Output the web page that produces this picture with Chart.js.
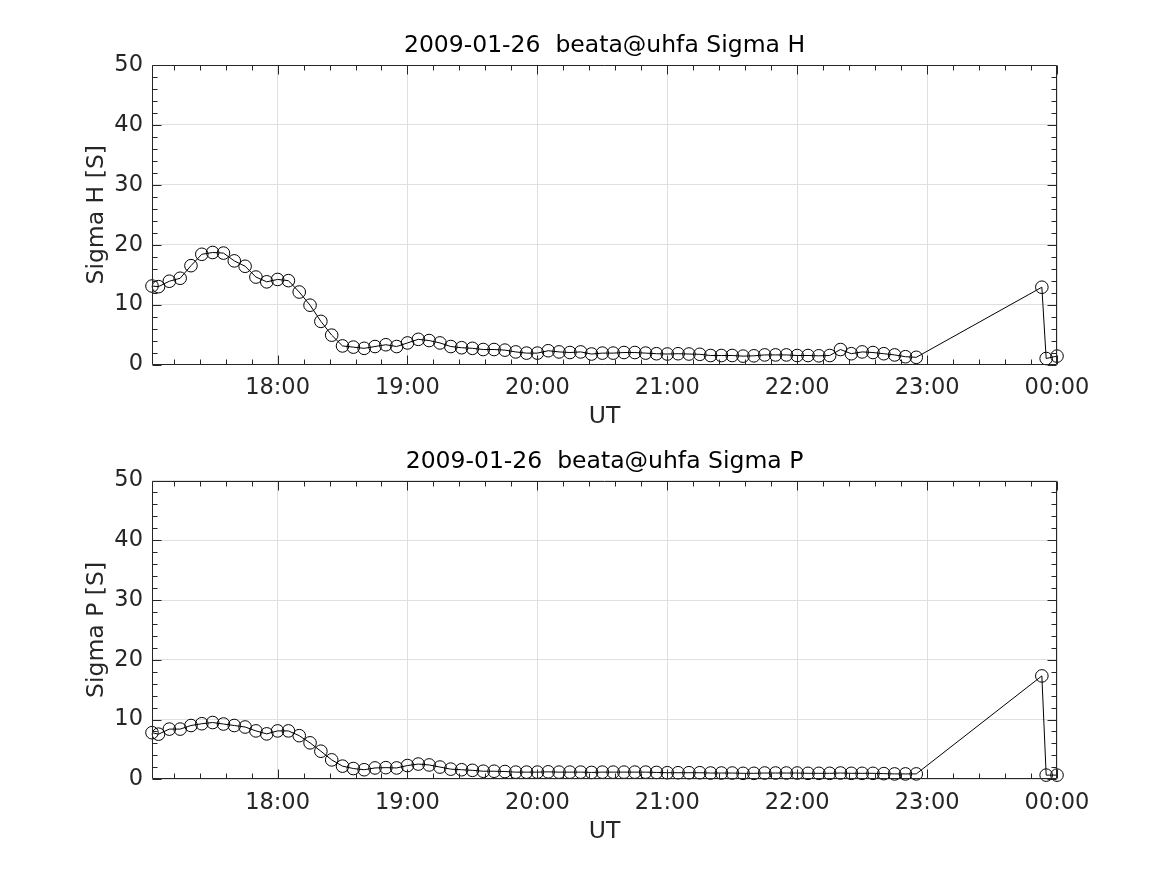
<!DOCTYPE html>
<html>
<head>
<meta charset="utf-8">
<script src="https://cdn.jsdelivr.net/npm/chart.js@4/dist/chart.umd.min.js"></script>
<style>
  html, body { margin: 0; padding: 0; background: #fff; }
  #wrap { position: relative; width: 1167px; height: 875px; }
  canvas { position: absolute; left: 0; }
  #cH { top: 0; }
  #cP { top: 437px; }
</style>
</head>
<body>
<div id="wrap">
  <canvas id="cH" width="1167" height="437"></canvas>
  <canvas id="cP" width="1167" height="438"></canvas>
</div>
<script>
// UT sample times
const utTimes = [
  '17:02','17:05','17:10','17:15','17:20','17:25','17:30','17:35','17:40','17:45','17:50','17:55',
  '18:00','18:05','18:10','18:15','18:20','18:25','18:30','18:35','18:40','18:45','18:50','18:55',
  '19:00','19:05','19:10','19:15','19:20','19:25','19:30','19:35','19:40','19:45','19:50','19:55',
  '20:00','20:05','20:10','20:15','20:20','20:25','20:30','20:35','20:40','20:45','20:50','20:55',
  '21:00','21:05','21:10','21:15','21:20','21:25','21:30','21:35','21:40','21:45','21:50','21:55',
  '22:00','22:05','22:10','22:15','22:20','22:25','22:30','22:35','22:40','22:45','22:50','22:55',
  '23:53','23:55','00:00'
];

// Hall conductance [S]
const sigmaH = [
  13.1, 13.0, 13.9, 14.4, 16.5, 18.4, 18.7, 18.6, 17.3, 16.4, 14.6, 13.8,
  14.2, 14.0, 12.1, 9.9, 7.2, 4.9, 3.1, 2.9, 2.7, 3.0, 3.3, 3.0,
  3.6, 4.2, 4.0, 3.6, 3.0, 2.8, 2.7, 2.5, 2.5, 2.4, 2.1, 1.9,
  1.9, 2.3, 2.1, 2.0, 2.1, 1.75, 1.9, 1.9, 2.0, 2.0, 1.9, 1.8,
  1.75, 1.8, 1.75, 1.7, 1.5, 1.5, 1.5, 1.4, 1.45, 1.6, 1.6, 1.6,
  1.5, 1.5, 1.45, 1.5, 2.5, 1.8, 2.1, 2.0, 1.8, 1.6, 1.3, 1.2,
  12.9, 1.0, 1.4
];

// Pedersen conductance [S]
const sigmaP = [
  7.8, 7.55, 8.4, 8.4, 9.0, 9.3, 9.5, 9.25, 9.0, 8.75, 8.1, 7.6,
  8.1, 8.1, 7.3, 6.1, 4.7, 3.25, 2.2, 1.8, 1.6, 1.9, 1.95, 1.9,
  2.3, 2.55, 2.4, 2.05, 1.7, 1.6, 1.5, 1.35, 1.35, 1.3, 1.2, 1.2,
  1.2, 1.25, 1.2, 1.2, 1.2, 1.15, 1.2, 1.2, 1.2, 1.2, 1.2, 1.15,
  1.1, 1.1, 1.1, 1.1, 1.05, 1.05, 1.05, 1.0, 1.0, 1.05, 1.05, 1.05,
  1.05, 1.0, 1.0, 1.0, 1.05, 1.0, 1.0, 1.0, 0.95, 0.9, 0.9, 0.9,
  17.3, 0.7, 0.7
];

const xTickHours = [18, 19, 20, 21, 22, 23, 24];
const yTicks = [0, 10, 20, 30, 40, 50];
const plotDate = '2009-01-26';
const siteName = 'beata@uhfa';

const FONT = "'DejaVu Sans', sans-serif";
const AXIS_COL = '#262626';

function toHours(t) {
  const [h, m] = t.split(':').map(Number);
  let v = h + m / 60;
  if (h < 12) v += 24;
  return v;
}
const xs = utTimes.map(toHours);

// MATLAB style box with inward major/minor ticks on all four sides
const boxTicks = {
  id: 'boxTicks',
  afterDraw(chart) {
    const { ctx, chartArea: a, scales: { x, y } } = chart;
    ctx.save();
    ctx.strokeStyle = AXIS_COL;
    ctx.lineWidth = 1;
    ctx.beginPath();
    const L = Math.round(a.left) + 0.5, R = Math.round(a.right) - 0.5;
    const T = Math.round(a.top) + 0.5, B = Math.round(a.bottom) - 0.5;
    ctx.rect(L, T, R - L, B - T);
    const vt = (v, len) => {
      const px = Math.round(x.getPixelForValue(v)) + 0.5;
      ctx.moveTo(px, B); ctx.lineTo(px, B - len);
      ctx.moveTo(px, T); ctx.lineTo(px, T + len);
    };
    const ht = (v, len) => {
      const py = Math.round(y.getPixelForValue(v)) + 0.5;
      ctx.moveTo(L, py); ctx.lineTo(L + len, py);
      ctx.moveTo(R, py); ctx.lineTo(R - len, py);
    };
    for (let k = Math.ceil(x.min * 5); k <= Math.floor(x.max * 5); k++) {
      vt(k / 5, k % 5 === 0 ? 9 : 5);
    }
    for (let v = 0; v <= 50; v += 2) ht(v, v % 10 === 0 ? 9 : 5);
    ctx.stroke();
    ctx.restore();
  }
};

function makeChart(id, values, name, pad) {
  return new Chart(document.getElementById(id), {
    type: 'line',
    data: {
      datasets: [{
        data: xs.map((t, i) => ({ x: t, y: values[i] })),
        borderColor: '#000',
        borderWidth: 1,
        pointStyle: 'circle',
        pointRadius: 6.3,
        pointBorderWidth: 1,
        pointBorderColor: '#000',
        pointBackgroundColor: 'rgba(0,0,0,0)',
        tension: 0,
        clip: false
      }]
    },
    options: {
      responsive: false,
      animation: false,
      devicePixelRatio: 1,
      layout: { padding: { left: 0, right: 110, top: 0, bottom: pad.bottom } },
      plugins: {
        legend: { display: false },
        tooltip: { enabled: false },
        title: {
          display: true,
          fullSize: false,
          text: plotDate + '  ' + siteName + ' ' + name,
          color: '#000',
          font: { family: FONT, size: 23.5, weight: 'normal', lineHeight: 1.2 },
          padding: { top: pad.titleTop, bottom: pad.titleBottom }
        }
      },
      scales: {
        x: {
          type: 'linear',
          min: xs[0],
          max: 24,
          afterBuildTicks: s => { s.ticks = xTickHours.map(v => ({ value: v })); },
          afterFit: s => { s.height = 72; },
          ticks: {
            autoSkip: false, maxRotation: 0, padding: 10, color: AXIS_COL,
            font: { family: FONT, size: 22.5 },
            callback: v => String(v % 24).padStart(2, '0') + ':00'
          },
          grid: { color: '#dfdfdf', drawTicks: false },
          border: { display: false },
          title: {
            display: true, text: 'UT', color: AXIS_COL,
            font: { family: FONT, size: 23.5, lineHeight: 1.2 },
            padding: { top: 0, bottom: 5.4 }
          }
        },
        y: {
          min: 0,
          max: 50,
          afterBuildTicks: s => { s.ticks = yTicks.map(v => ({ value: v })); },
          afterFit: s => { s.width = 152; },
          ticks: { padding: 9, color: AXIS_COL, font: { family: FONT, size: 22.5 } },
          grid: { color: '#dfdfdf', drawTicks: false },
          border: { display: false },
          title: {
            display: true, text: name + ' [S]', color: AXIS_COL,
            font: { family: FONT, size: 23.5, lineHeight: 1.2 },
            padding: { top: 83, bottom: 0 }
          }
        }
      }
    },
    plugins: [boxTicks]
  });
}

makeChart('cH', sigmaH, 'Sigma H', { titleTop: 32, titleBottom: 4.8, bottom: 0.5 });
makeChart('cP', sigmaP, 'Sigma P', { titleTop: 11, titleBottom: 4.3, bottom: 23.7 });
</script>
</body>
</html>
